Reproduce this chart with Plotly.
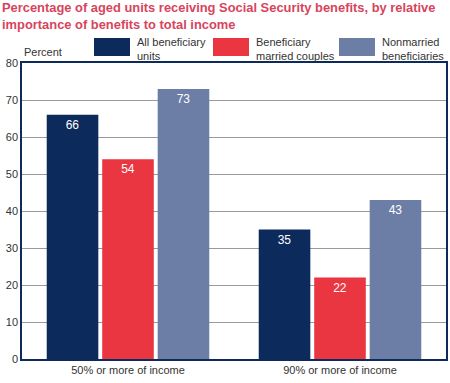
import plotly.graph_objects as go

categories = ["50% or more of income", "90% or more of income"]
series_names = ["All beneficiary<br>units", "Beneficiary<br>married couples", "Nonmarried<br>beneficiaries"]
all_units = [66, 35]
married_couples = [54, 22]
nonmarried = [73, 43]
series_values = [all_units, married_couples, nonmarried]
colors = ["#0c2a5c", "#ea3641", "#6c7da6"]
y_ticks = [0, 10, 20, 30, 40, 50, 60, 70, 80]
title_text = ("Percentage of aged units receiving Social Security benefits, by relative<br>"
              "importance of benefits to total income")

W, H = 450, 383
ML, MR, MT, MB = 22, 4, 63, 24
PW, PH = W - ML - MR, H - MT - MB

def px_x(px):
    return (px - ML) / PW

def px_y(py):
    return (H - MB - py) / PH

FONT = "Liberation Sans, Arial, sans-serif"

fig = go.Figure()
for name, vals, col in zip(series_names, series_values, colors):
    fig.add_trace(go.Bar(
        x=categories, y=vals, name=name.replace("<br>", " "),
        marker=dict(color=col, line=dict(width=0)),
        text=[str(v) for v in vals], textposition="inside",
        insidetextanchor="end",
        textfont=dict(color="white", size=12, family=FONT),
        showlegend=False, hoverinfo="skip",
    ))

# legend boxes and labels
box_x = [94, 213, 339]
for name, col, bx in zip(series_names, colors, box_x):
    fig.add_shape(type="rect", xref="paper", yref="paper",
                  x0=px_x(bx), x1=px_x(bx + 36), y0=px_y(56), y1=px_y(38),
                  fillcolor=col, line=dict(width=0))
    fig.add_annotation(xref="paper", yref="paper", x=px_x(bx + 42), y=px_y(35),
                       xanchor="left", yanchor="top", align="left",
                       text=name, showarrow=False, borderpad=0,
                       font=dict(size=11, color="#333333", family=FONT))

fig.add_annotation(xref="paper", yref="paper", x=px_x(22), y=px_y(52),
                   xanchor="left", yanchor="middle", text="Percent", showarrow=False,
                   font=dict(size=11, color="#333333", family=FONT))

fig.add_annotation(xref="paper", yref="paper", x=px_x(1), y=px_y(-1),
                   xanchor="left", yanchor="top", align="left", text="<b>" + title_text + "</b>",
                   showarrow=False, borderpad=0,
                   font=dict(size=12.9, color="#d8445c", family=FONT))

fig.update_layout(
    width=W, height=H,
    margin=dict(l=ML, r=MR, t=MT, b=MB, autoexpand=False),
    paper_bgcolor="white", plot_bgcolor="white",
    barmode="group", bargap=0.215, bargroupgap=0.07,
    font=dict(family=FONT, size=11, color="#333333"),
)
fig.update_xaxes(showline=True, linecolor="#0c2a5c", linewidth=1.5, mirror=True,
                 ticks="", automargin=False, tickfont=dict(size=11, color="#333333"))
fig.update_yaxes(range=[0, 80], tickvals=y_ticks, showgrid=True, gridcolor="#9a9a9a",
                 gridwidth=1, showline=True, linecolor="#0c2a5c", linewidth=1.5,
                 mirror=True, ticks="", zeroline=False, automargin=False,
                 tickfont=dict(size=11, color="#333333"))

fig.write_html("out.html", config={"displayModeBar": False},
               post_script="document.body.style.margin='0';document.body.style.overflow='hidden';")
